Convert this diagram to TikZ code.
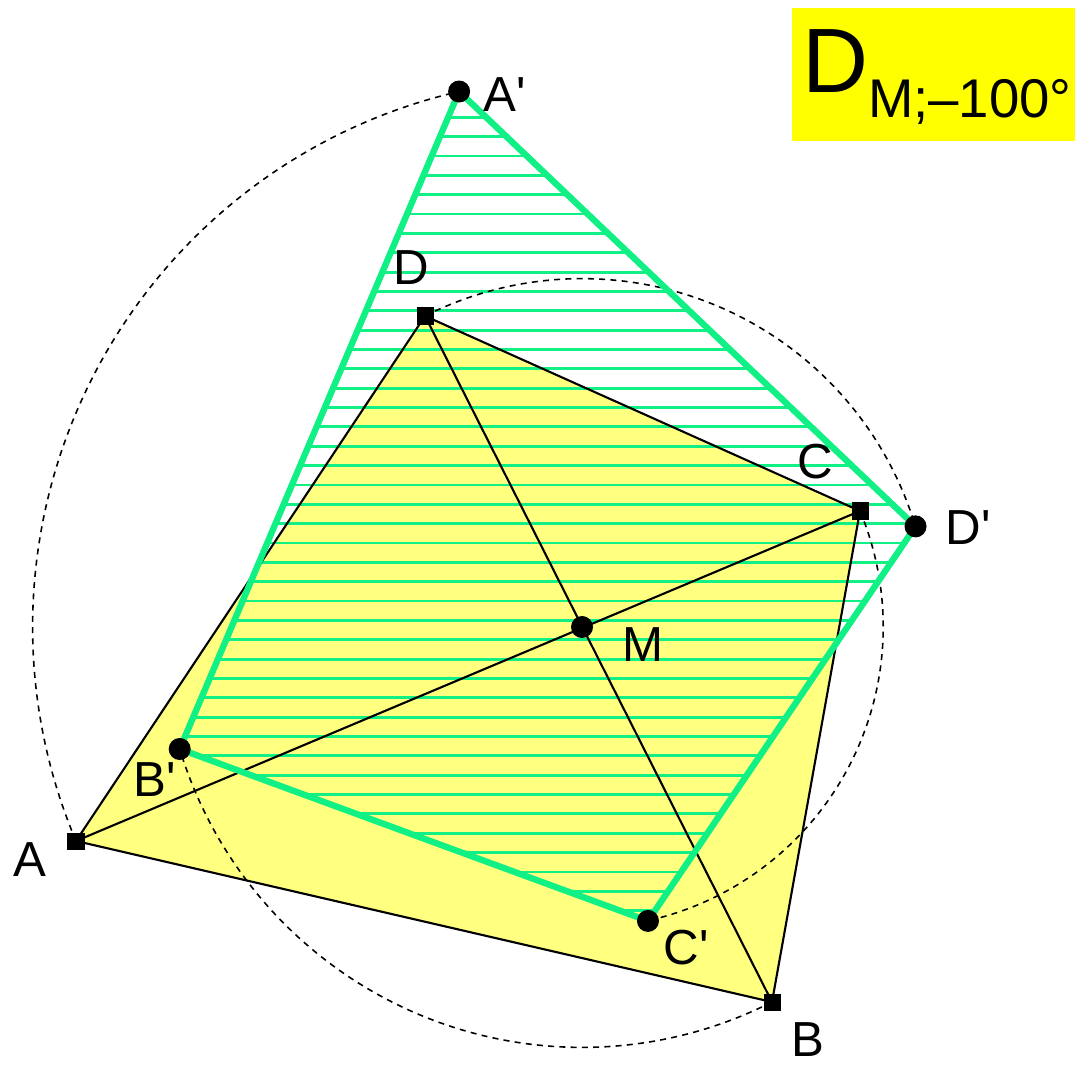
\documentclass[tikz,border=0pt]{standalone}
\usepackage{fontspec}
\setmainfont{Liberation Sans}
\usetikzlibrary{calc}
\definecolor{cyellow}{HTML}{FFFF80}
\definecolor{cbox}{HTML}{FFFF00}
\definecolor{cgreen}{HTML}{10F084}
\newcommand{\prm}{\textquotesingle}
\tikzset{
  every picture/.style={line width=0.6pt},
  sqdot/.style={fill=black, inner sep=0pt, minimum size=0.17cm},
  rdot/.style={circle, fill=black, inner sep=0pt, minimum size=0.22cm},
  trace/.style={dash pattern=on 1.7pt off 1.5pt, line width=0.45pt},
  hatch/.style={draw=cgreen, line width=0.8pt},
  image/.style={draw=cgreen, line width=1.8pt, line join=round},
  lbl/.style={font=\fontsize{14}{16}\selectfont, inner sep=0pt},
}

\begin{document}
\begin{tikzpicture}[x=0.01cm, y=0.01cm]
  \useasboundingbox (0,0) rectangle (1076,1066);
  % quadrilateral and centre
  \coordinate (A) at (76,225);
  \coordinate (B) at (772,64);
  \coordinate (C) at (860,555);
  \coordinate (D) at (425,750);
  \coordinate (M) at (582,439);
  % images under the rotation
  \coordinate (A') at ($(M)!1!-100:(A)$);
  \coordinate (B') at ($(M)!1!-100:(B)$);
  \coordinate (C') at ($(M)!1!-100:(C)$);
  \coordinate (D') at ($(M)!1!-100:(D)$);

  \fill[cyellow] (A) -- (B) -- (C) -- (D) -- cycle;
  \begin{scope}
    \clip (A') -- (B') -- (C') -- (D') -- cycle;
    \foreach \k in {0,...,42}
      \draw[hatch] (0,{948.7-19.35*\k}) -- (1076,{948.7-19.35*\k});
  \end{scope}
  \draw (A) -- (B) -- (C) -- (D) -- cycle;
  \draw (A) -- (C) (B) -- (D);
  % paths of the vertices
  \foreach \v in {A,B,C,D}
    \draw[trace] let \p1=($(\v)-(M)$), \n1={veclen(\x1,\y1)}, \n2={atan2(\y1,\x1)}
      in (\v) arc[start angle=\n2, delta angle=-100, radius=\n1];
  \draw[image] (A') -- (B') -- (C') -- (D') -- cycle;

  \foreach \v in {A,B,C,D}
    \node[sqdot] (sq\v) at (\v) {};
  \foreach \v in {A',B',C',D',M}
    \node[rdot] (dot\v) at (\v) {};

  \node[lbl] (lA) at (30,206) {A};
  \node[lbl] (lB) at (808,26) {B};
  \node[lbl] (lC) at (815,604) {C};
  \node[lbl] (lD) at (411,798) {D};
  \node[lbl] (lM) at (643,421) {M};
  \node[lbl] (lA') at (505,971) {A\prm};
  \node[lbl] (lB') at (155,286) {B\prm};
  \node[lbl] (lC') at (686,118) {C\prm};
  \node[lbl] (lD') at (968,538) {D\prm};

  % title box
  \fill[cbox] (792,925) rectangle (1075,1058);
  \node[inner sep=0pt, anchor=base west] (title) at (801,973)
    {\fontsize{26}{28}\selectfont D\raisebox{-0.24cm}{\fontsize{15.5}{17}\selectfont M;–100°}};
\end{tikzpicture}
\end{document}
